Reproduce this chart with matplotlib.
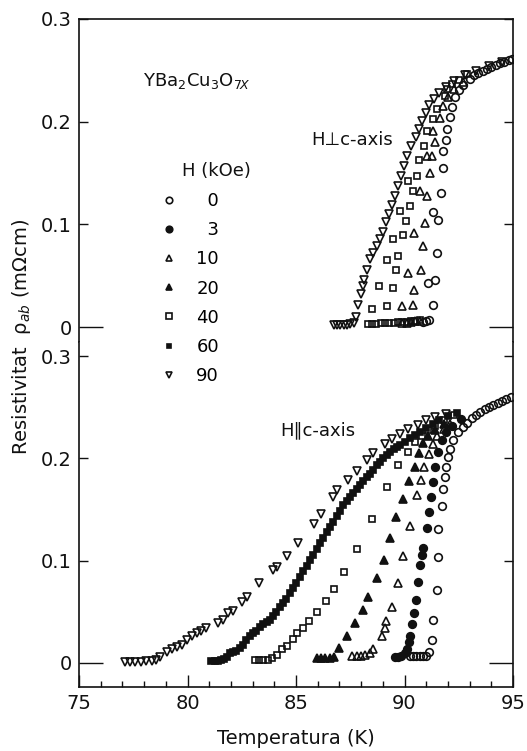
import numpy as np
import matplotlib
matplotlib.use('Agg')
import matplotlib.pyplot as plt
from matplotlib.lines import Line2D
from matplotlib.ticker import MultipleLocator

plt.rcParams['font.family'] = ['DejaVu Sans']
plt.rcParams['mathtext.fontset'] = 'dejavusans'

# Campos aplicados (kOe)
fields = [0, 3, 10, 20, 40, 60, 90]

# H perpendicular al eje c: (T [K], rho_ab [mOhm cm])
perp_0 = np.array([(90.85, 0.005), (91.0, 0.006), (91.15, 0.007), (91.33, 0.0214), (91.1, 0.043),
                   (91.41, 0.0458), (91.48, 0.0718), (91.56, 0.104), (91.33, 0.1123), (91.67, 0.131),
                   (91.76, 0.1545), (91.76, 0.171), (91.91, 0.182), (91.95, 0.193), (92.1, 0.205),
                   (92.17, 0.2145), (92.33, 0.224), (92.5, 0.231), (92.7, 0.236), (93.0, 0.242),
                   (93.2, 0.245), (93.4, 0.247), (93.6, 0.249), (93.8, 0.251), (94.0, 0.253),
                   (94.2, 0.255), (94.4, 0.257), (94.6, 0.258), (94.8, 0.260), (94.95, 0.261)])
perp_10 = np.array([(89.9, 0.004), (90.1, 0.004), (90.3, 0.005), (90.5, 0.006), (90.7, 0.006),
                    (89.87, 0.020), (90.38, 0.0215), (90.44, 0.036), (90.18, 0.0525), (90.74, 0.0558),
                    (90.83, 0.0786), (90.44, 0.0917), (90.94, 0.1015), (90.71, 0.132), (91.02, 0.1275),
                    (91.17, 0.150), (91.05, 0.1667), (91.29, 0.1667), (91.41, 0.180), (91.33, 0.191),
                    (91.64, 0.204), (91.79, 0.2156), (92.0, 0.224), (92.3, 0.232), (92.7, 0.239)])
perp_40 = np.array([(88.3, 0.003), (88.5, 0.003), (88.7, 0.003), (88.9, 0.004), (89.1, 0.004),
                    (89.3, 0.004), (89.5, 0.004), (89.7, 0.005), (89.9, 0.005), (90.1, 0.005),
                    (90.3, 0.006), (90.5, 0.006), (90.7, 0.007), (88.49, 0.018), (89.18, 0.020),
                    (88.84, 0.0395), (89.45, 0.038), (89.18, 0.0656), (89.61, 0.0558), (89.71, 0.0688),
                    (89.48, 0.0857), (89.91, 0.090), (90.07, 0.103), (89.79, 0.1128), (90.25, 0.1177),
                    (90.38, 0.1324), (90.18, 0.142), (90.56, 0.147), (90.67, 0.163), (90.90, 0.176),
                    (91.05, 0.191), (91.33, 0.2025), (91.48, 0.212), (91.87, 0.2254), (91.94, 0.232),
                    (92.2, 0.237), (92.5, 0.241), (92.9, 0.246)])
perp_90 = np.array([(86.75, 0.002), (86.9, 0.002), (87.05, 0.002), (87.2, 0.002), (87.35, 0.002),
                    (87.5, 0.003), (87.65, 0.004), (87.76, 0.010), (87.87, 0.021), (87.98, 0.032),
                    (88.08, 0.040), (88.15, 0.046), (88.28, 0.056), (88.41, 0.066), (88.56, 0.072),
                    (88.72, 0.079), (88.87, 0.086), (89.02, 0.093), (89.15, 0.102), (89.27, 0.110),
                    (89.42, 0.119), (89.56, 0.128), (89.7, 0.137), (89.84, 0.147), (89.97, 0.157),
                    (90.10, 0.167), (90.3, 0.176), (90.51, 0.185), (90.67, 0.193), (90.82, 0.201),
                    (90.98, 0.208), (91.14, 0.216), (91.35, 0.222), (91.6, 0.228), (91.9, 0.234),
                    (92.3, 0.240), (92.8, 0.245), (93.3, 0.249), (93.9, 0.254), (94.5, 0.258)])

# H paralelo al eje c
par_0 = np.array([(90.25, 0.007), (90.4, 0.007), (90.55, 0.007), (90.7, 0.007), (90.85, 0.007),
                  (91.0, 0.007), (91.14, 0.011), (91.25, 0.022), (91.3, 0.042), (91.48, 0.071),
                  (91.56, 0.104), (91.56, 0.131), (91.71, 0.153), (91.79, 0.170), (91.87, 0.182),
                  (91.91, 0.192), (92.02, 0.2015), (92.1, 0.2096), (92.25, 0.218), (92.48, 0.226),
                  (92.7, 0.231), (92.9, 0.235), (93.1, 0.239), (93.3, 0.242), (93.5, 0.245),
                  (93.7, 0.248), (93.9, 0.250), (94.1, 0.252), (94.3, 0.254), (94.5, 0.256),
                  (94.7, 0.258), (94.9, 0.260)])
par_3 = np.array([(89.56, 0.006), (89.7, 0.006), (89.85, 0.007), (90.0, 0.010), (90.1, 0.014),
                  (90.2, 0.020), (90.25, 0.026), (90.33, 0.038), (90.44, 0.049), (90.53, 0.0615),
                  (90.64, 0.0795), (90.71, 0.0957), (90.79, 0.1055), (90.87, 0.112), (91.02, 0.1315),
                  (91.14, 0.148), (91.21, 0.162), (91.3, 0.177), (91.41, 0.192), (91.56, 0.206),
                  (91.71, 0.218), (91.9, 0.226), (92.2, 0.232), (92.6, 0.238)])
par_10 = np.array([(87.6, 0.007), (87.8, 0.007), (88.0, 0.007), (88.2, 0.008), (88.4, 0.010),
                   (88.56, 0.014), (88.95, 0.026), (89.1, 0.034), (89.15, 0.041), (89.41, 0.055),
                   (89.71, 0.078), (89.92, 0.1045), (90.25, 0.134), (90.56, 0.164), (90.75, 0.179),
                   (90.91, 0.192), (91.14, 0.204), (91.3, 0.2145), (91.5, 0.222), (91.8, 0.229),
                   (92.1, 0.234)])
par_20 = np.array([(85.95, 0.005), (86.15, 0.005), (86.35, 0.005), (86.55, 0.005), (86.75, 0.006),
                   (87.0, 0.015), (87.34, 0.026), (87.72, 0.039), (88.07, 0.052), (88.33, 0.064),
                   (88.72, 0.083), (89.06, 0.101), (89.33, 0.122), (89.61, 0.143), (89.91, 0.160),
                   (90.22, 0.178), (90.48, 0.192), (90.68, 0.205), (90.87, 0.215), (91.1, 0.222),
                   (91.4, 0.228), (91.8, 0.234)])
par_40 = np.array([(83.1, 0.003), (83.3, 0.003), (83.5, 0.003), (83.7, 0.003), (83.9, 0.005),
                   (84.11, 0.008), (84.34, 0.014), (84.57, 0.017), (84.88, 0.023), (85.03, 0.029),
                   (85.31, 0.034), (85.61, 0.041), (85.98, 0.050), (86.38, 0.061), (86.75, 0.072),
                   (87.23, 0.089), (87.83, 0.111), (88.52, 0.141), (89.18, 0.1715), (89.71, 0.193),
                   (90.18, 0.206), (90.48, 0.216), (90.8, 0.222), (91.1, 0.228), (91.4, 0.232),
                   (91.8, 0.237), (92.3, 0.242)])
par_60 = np.array([(81.1, 0.002), (81.25, 0.002), (81.4, 0.002), (81.55, 0.003), (81.7, 0.004),
                   (81.83, 0.006), (81.96, 0.0095), (82.1, 0.011), (82.25, 0.012), (82.42, 0.0143),
                   (82.55, 0.018), (82.7, 0.022), (82.88, 0.026), (83.0, 0.029), (83.15, 0.031),
                   (83.34, 0.0355), (83.5, 0.038), (83.65, 0.040), (83.8, 0.042), (83.95, 0.046),
                   (84.1, 0.050), (84.26, 0.055), (84.4, 0.059), (84.55, 0.063), (84.72, 0.068),
                   (84.87, 0.073), (85.02, 0.078), (85.18, 0.084), (85.33, 0.090), (85.5, 0.095),
                   (85.65, 0.1006), (85.8, 0.106), (85.95, 0.111), (86.11, 0.117), (86.26, 0.122),
                   (86.42, 0.128), (86.57, 0.133), (86.72, 0.138), (86.88, 0.144), (87.03, 0.149),
                   (87.18, 0.154), (87.34, 0.158), (87.49, 0.162), (87.64, 0.166), (87.8, 0.170),
                   (87.95, 0.174), (88.1, 0.178), (88.26, 0.182), (88.41, 0.185), (88.56, 0.189),
                   (88.72, 0.193), (88.87, 0.1966), (89.02, 0.200), (89.18, 0.203), (89.33, 0.2063),
                   (89.5, 0.209), (89.65, 0.211), (89.79, 0.213), (90.0, 0.216), (90.25, 0.2194),
                   (90.5, 0.223), (90.71, 0.226), (91.0, 0.230), (91.3, 0.234), (91.6, 0.237),
                   (92.0, 0.241), (92.4, 0.244)])
par_90 = np.array([(77.1, 0.001), (77.35, 0.001), (77.6, 0.001), (77.85, 0.001), (78.1, 0.002),
                   (78.35, 0.002), (78.55, 0.003), (78.73, 0.006), (79.04, 0.011), (79.27, 0.014),
                   (79.5, 0.016), (79.73, 0.018), (79.96, 0.022), (80.2, 0.026), (80.43, 0.029),
                   (80.63, 0.031), (80.86, 0.034), (81.4, 0.039), (81.62, 0.042), (81.85, 0.049),
                   (82.08, 0.051), (82.5, 0.060), (82.73, 0.064), (83.3, 0.078), (83.93, 0.091),
                   (84.11, 0.094), (84.57, 0.1045), (85.11, 0.117), (85.83, 0.136), (86.14, 0.146),
                   (86.69, 0.162), (86.88, 0.169), (87.41, 0.179), (87.8, 0.188), (88.26, 0.198),
                   (88.56, 0.205), (89.1, 0.2145), (89.41, 0.219), (89.79, 0.224), (90.18, 0.229),
                   (90.6, 0.233), (91.0, 0.237), (91.4, 0.240), (91.9, 0.243)])

perp = {0: perp_0, 10: perp_10, 40: perp_40, 90: perp_90}
par = {0: par_0, 3: par_3, 10: par_10, 20: par_20, 40: par_40, 60: par_60, 90: par_90}

ink = '#111111'
style = {
    0: dict(marker='o', mfc='none', ms=5.5),
    3: dict(marker='o', mfc=ink, ms=5.5),
    10: dict(marker='^', mfc='none', ms=5.5),
    20: dict(marker='^', mfc=ink, ms=5.5),
    40: dict(marker='s', mfc='none', ms=4.3),
    60: dict(marker='s', mfc=ink, ms=4.0),
    90: dict(marker='v', mfc='none', ms=5.5),
}

fig = plt.figure(figsize=(5.27, 7.51), dpi=100)
L, W = 79 / 527, 434 / 527
ax_top = fig.add_axes([L, 1 - 341.5 / 751, W, (341.5 - 19) / 751])
ax_bot = fig.add_axes([L, 1 - 687 / 751, W, (687 - 341.5) / 751], sharex=ax_top)

for f, d in perp.items():
    ax_top.plot(d[:, 0], d[:, 1], ls='none', color=ink, mec=ink, mew=1.2, **style[f])
for f, d in par.items():
    ax_bot.plot(d[:, 0], d[:, 1], ls='none', color=ink, mec=ink, mew=1.2, **style[f])

ax_bot.set_xlim(75, 95)
ax_top.set_ylim(-0.0141, 0.3)
ax_bot.set_ylim(-0.0235, 0.3142)
ax_top.spines['bottom'].set_visible(False)
ax_bot.spines['top'].set_visible(False)

for ax in (ax_top, ax_bot):
    for s in ax.spines.values():
        s.set_linewidth(1.2)
        s.set_color(ink)
    ax.set_yticks([0, 0.1, 0.2, 0.3])
    ax.set_yticklabels(['0', '0.1', '0.2', '0.3'])
    ax.tick_params(axis='y', direction='in', left=True, right=True, length=6.5, width=1,
                   labelsize=14, pad=5, colors=ink)
    t0 = ax.yaxis.get_major_ticks()[0]
    t0.tick1line.set_markersize(17)
    t0.tick2line.set_markersize(17)

ax_top.tick_params(axis='x', which='both', bottom=False, top=False, labelbottom=False)
ax_bot.set_xticks([75, 80, 85, 90, 95])
ax_bot.xaxis.set_minor_locator(MultipleLocator(1))
ax_bot.tick_params(axis='x', which='major', direction='in', length=9, width=1, top=False,
                   labelsize=14, pad=5, colors=ink)
ax_bot.tick_params(axis='x', which='minor', direction='in', length=4, width=1, top=False, colors=ink)

ax_top.text(77.95, 0.240, r'YBa$_2$Cu$_3$O$_{7X}$', fontsize=13, va='center', color=ink)
ax_top.text(85.72, 0.182, 'H⊥c-axis', fontsize=13, va='center', color=ink)
ax_bot.text(84.26, 0.2277, 'H∥c-axis', fontsize=13, va='center', color=ink)

fig.text(296 / 527, 1 - 738 / 751, 'Temperatura (K)', ha='center', va='center', fontsize=14, color=ink)
fig.text(22 / 527, 1 - 337 / 751, 'Resistivitat  ρ$_{ab}$ (mΩcm)', rotation=90,
         ha='center', va='center', fontsize=14, color=ink)

# Leyenda de campos
handles = [Line2D([], [], ls='none', color=ink, mec=ink, mew=1.2, **style[f]) for f in fields]
labels = [('\u2007' + str(f)) if f < 10 else str(f) for f in fields]
fig.text(182 / 527, 1 - 171 / 751, 'H (kOe)', ha='left', va='center', fontsize=13, color=ink)
fig.legend(handles, labels, loc='upper left', bbox_to_anchor=(162 / 527, 1 - 192 / 751),
           frameon=False, fontsize=13, handlelength=0.8, handletextpad=1.1, markerscale=0.85,
           labelspacing=0.62, borderpad=0, borderaxespad=0)

fig.savefig('out.png', dpi=100)
